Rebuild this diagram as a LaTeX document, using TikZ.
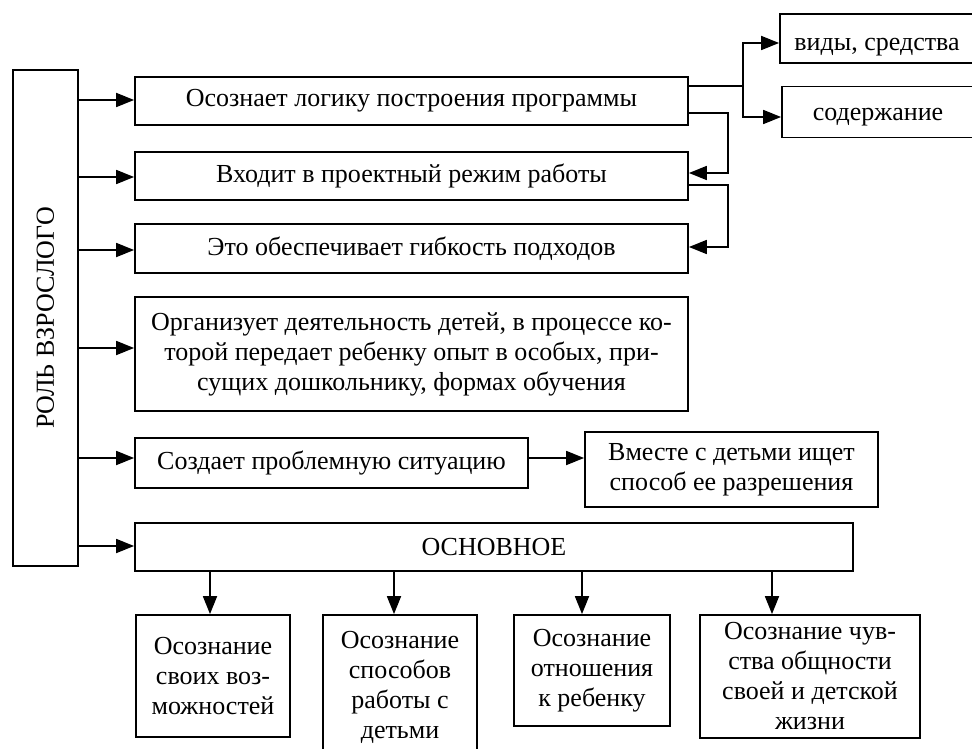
\documentclass[tikz,border=0pt]{standalone}
\usepackage{fontspec}
\setmainfont{Liberation Serif}
\usetikzlibrary{arrows.meta}
\begin{document}
\begin{tikzpicture}[x=1pt,y=-1pt,
  box/.style={draw, line width=1.8pt, inner sep=0pt, align=center,
    font=\fontsize{26}{30}\selectfont},
  ln/.style={line width=1.8pt},
  arr/.style={line width=1.8pt, -{Triangle[length=18pt,width=14pt]}}]
\useasboundingbox (0,0) rectangle (972,749);
\fill[white] (0,0) rectangle (972,749);
% left vertical box
\node[box, minimum width=65pt, minimum height=496pt] (L) at (45.5,318)
  {\rotatebox{90}{РОЛЬ ВЗРОСЛОГО}};
% main boxes
\node[box, minimum width=553pt, minimum height=48pt] (b1) at (411.5,101)
  {Осознает логику построения программы};
\node[box, minimum width=553pt, minimum height=48pt] (b2) at (411.5,176)
  {Входит в проектный режим работы};
\node[box, minimum width=553pt, minimum height=49pt] (b3) at (411.5,248.5)
  {Это обеспечивает гибкость подходов};
\node[box, minimum width=553pt, minimum height=114pt] (b4) at (411.5,354)
  {Организует деятельность детей, в процессе ко-\\торой передает ребенку опыт в особых, при-\\сущих дошкольнику, формах обучения};
\node[box, minimum width=393pt, minimum height=50pt] (b5) at (331.5,463)
  {Создает проблемную ситуацию};
\node[box, minimum width=293pt, minimum height=75pt] (vm) at (731.5,469.5)
  {Вместе с детьми ищет\\способ ее разрешения};
\node[box, minimum width=718pt, minimum height=48pt] (osn) at (494,547)
  {ОСНОВНОЕ};
% top right boxes
\node[box, minimum width=194pt, minimum height=49pt] (vid) at (877,38.5)
  {\raisebox{-12pt}[0pt][0pt]{виды, средства}};
\node[box, minimum width=192pt, minimum height=51pt] (sod) at (878,112)
  {\raisebox{-9pt}[0pt][0pt]{содержание}};
% bottom boxes
\node[box, minimum width=154pt, minimum height=122pt] (bb1) at (213,676)
  {Осознание\\своих воз-\\можностей};
\node[box, minimum width=154pt, minimum height=145pt] (bb2) at (400,687.5)
  {Осознание\\способов\\работы с\\детьми};
\node[box, minimum width=156pt, minimum height=111pt] (bb3) at (592,670.5)
  {Осознание\\отношения\\к ребенку};
\node[box, minimum width=220pt, minimum height=123pt] (bb4) at (810,676.5)
  {Осознание чув-\\ства общности\\своей и детской\\жизни};
% arrows from left box
\coordinate (y1) at (0,100);
\coordinate (y2) at (0,177);
\coordinate (y3) at (0,250);
\coordinate (y4) at (0,348);
\coordinate (y5) at (0,458);
\coordinate (y6) at (0,546);
\draw[arr] (L.east |- y1) -- (b1.west |- y1);
\draw[arr] (L.east |- y2) -- (b2.west |- y2);
\draw[arr] (L.east |- y3) -- (b3.west |- y3);
\draw[arr] (L.east |- y4) -- (b4.west |- y4);
\draw[arr] (L.east |- y5) -- (b5.west |- y5);
\draw[arr] (L.east |- y6) -- (osn.west |- y6);
% top right branching
\coordinate (j) at (743,86);
\coordinate (ya) at (0,43);
\coordinate (yb) at (0,117);
\draw[ln] (b1.east |- j) -- (j);
\draw[arr] (j) |- (vid.west |- ya);
\draw[arr] (j) |- (sod.west |- yb);
% feedback connectors
\coordinate (k1) at (728,113);
\coordinate (k1b) at (728,173);
\coordinate (k2) at (728,185);
\coordinate (k2b) at (728,247);
\draw[arr] (b1.east |- k1) -- (k1) -- (k1b) -- (b2.east |- k1b);
\draw[arr] (b2.east |- k2) -- (k2) -- (k2b) -- (b3.east |- k2b);
% problem -> together
\coordinate (y7) at (0,458);
\draw[arr] (b5.east |- y7) -- (vm.west |- y7);
% down arrows
\coordinate (d1) at (210,0);
\coordinate (d2) at (394,0);
\coordinate (d3) at (582,0);
\coordinate (d4) at (772,0);
\draw[arr] (osn.south -| d1) -- (bb1.north -| d1);
\draw[arr] (osn.south -| d2) -- (bb2.north -| d2);
\draw[arr] (osn.south -| d3) -- (bb3.north -| d3);
\draw[arr] (osn.south -| d4) -- (bb4.north -| d4);
\end{tikzpicture}
\end{document}
